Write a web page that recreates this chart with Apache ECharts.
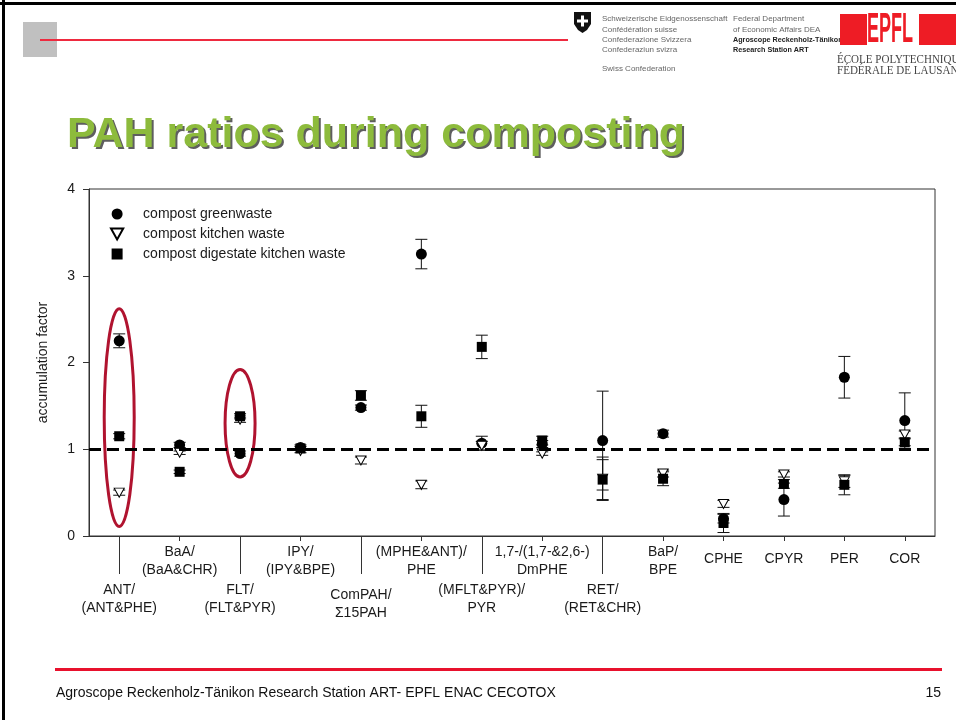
<!DOCTYPE html>
<html>
<head>
<meta charset="utf-8">
<title>PAH ratios during composting</title>
<script src="https://cdn.jsdelivr.net/npm/echarts@6/dist/echarts.min.js"></script>
<style>
  html, body { margin: 0; padding: 0; background: #ffffff; }
  #chart { width: 956px; height: 720px; }
</style>
</head>
<body>
<div id="chart"></div>
<script>
// PAH ratio categories (x axis)
const categories = [
  'ANT/\n(ANT&PHE)',
  'BaA/\n(BaA&CHR)',
  'FLT/\n(FLT&PYR)',
  'IPY/\n(IPY&BPE)',
  'ComPAH/\n\u03A315PAH',
  '(MPHE&ANT)/\nPHE',
  '(MFLT&PYR)/\nPYR',
  '1,7-/(1,7-&2,6-)\nDmPHE',
  'RET/\n(RET&CHR)',
  'BaP/\nBPE',
  'CPHE',
  'CPYR',
  'PER',
  'COR'
];

// accumulation factors (mean) and their error bars
const greenwasteMean = [2.25, 1.05, 0.95, 1.02, 1.48, 3.25, 1.07, 1.06, 1.10, 1.18, 0.20, 0.42, 1.83, 1.33];
const greenwasteErr  = [0.08, 0.03, 0.03, 0.03, 0.03, 0.17, 0.08, 0.04, 0.57, 0.04, 0.05, 0.19, 0.24, 0.32];

const kitchenMean = [0.50, 0.96, 1.34, 0.98, 0.87, 0.59, 1.04, 0.95, 0.66, 0.72, 0.37, 0.71, 0.63, 1.17];
const kitchenErr  = [0.03, 0.02, 0.03, 0.02, 0.04, 0.045, 0.05, 0.02, 0.25, 0.04, 0.04, 0.03, 0.07, 0.04];

const digestateMean = [1.15, 0.74, 1.38, 1.01, 1.62, 1.38, 2.18, 1.10, 0.65, 0.66, 0.15, 0.60, 0.59, 1.08];
const digestateErr  = [0.03, 0.02, 0.03, 0.02, 0.055, 0.127, 0.135, 0.05, 0.23, 0.08, 0.11, 0.05, 0.115, 0.04];

const seriesNames = ['compost greenwaste', 'compost kitchen waste', 'compost digestate kitchen waste'];

// y axis ticks
const yMin = 0, yMax = 4, yStep = 1;
const referenceLevel = 1;

// ratios highlighted with an ellipse: [category index, low, high]
const highlighted = [[0, 0.11, 2.62], [2, 0.68, 1.92]];

// categories whose tick runs down to the lower label row
const longTickIdx = [0, 2, 4, 6, 8];

const FONT = '"Liberation Sans", Arial, Helvetica, sans-serif';
const TXT = '#1a1a1a';
const DOWN_TRIANGLE = 'path://M0,0L10,0L5,9Z';
const SQUARE = 'path://M0,0L10,0L10,10L0,10Z';

const chart = echarts.init(document.getElementById('chart'), null, { renderer: 'canvas' });

function errorBarSeries(name, means, errs) {
  return {
    type: 'custom',
    name: name + ' error',
    silent: true,
    xAxisIndex: 0,
    yAxisIndex: 0,
    data: means.map((m, i) => [i, m, errs[i]]),
    encode: { x: 0, y: 1 },
    renderItem: function (params, api) {
      const i = api.value(0), m = api.value(1), e = api.value(2);
      const top = api.coord([i, m + e]);
      const bot = api.coord([i, m - e]);
      const half = 6;
      const st = { stroke: '#111', lineWidth: 1 };
      return {
        type: 'group',
        children: [
          { type: 'line', shape: { x1: top[0], y1: top[1], x2: bot[0], y2: bot[1] }, style: st },
          { type: 'line', shape: { x1: top[0] - half, y1: top[1], x2: top[0] + half, y2: top[1] }, style: st },
          { type: 'line', shape: { x1: bot[0] - half, y1: bot[1], x2: bot[0] + half, y2: bot[1] }, style: st }
        ]
      };
    }
  };
}

function categoryLabel(value, idx) {
  const lines = value.split('\n').map(s => '{t|' + s + '}').join('\n');
  if (idx === 4) return '{gapL| }\n' + lines;
  if (longTickIdx.indexOf(idx) >= 0) return '{gap| }\n' + lines;
  if (value.indexOf('\n') < 0) return '{s|' + value + '}';
  return lines;
}

const graphics = [
  // slide frame
  { type: 'rect', shape: { x: 0, y: 2, width: 956, height: 3 }, style: { fill: '#000' }, silent: true },
  { type: 'rect', shape: { x: 2, y: 0, width: 3, height: 720 }, style: { fill: '#000' }, silent: true },
  // header block and rule
  { type: 'rect', shape: { x: 23, y: 22, width: 34, height: 35 }, style: { fill: '#c0c0c0' }, silent: true },
  { type: 'rect', shape: { x: 40, y: 39, width: 528, height: 2 }, style: { fill: '#ee2a3f' }, silent: true },
  // Swiss shield
  { type: 'polygon', shape: { points: [[574, 12], [591, 12], [591, 24], [587, 30], [582.5, 33], [578, 30], [574, 24]] }, style: { fill: '#111' }, silent: true },
  { type: 'rect', shape: { x: 581, y: 15.5, width: 3, height: 11 }, style: { fill: '#fff' }, silent: true },
  { type: 'rect', shape: { x: 577, y: 19.5, width: 11, height: 3 }, style: { fill: '#fff' }, silent: true },
  // Swiss confederation text block
  { type: 'text', x: 602, y: 19, style: { text: 'Schweizerische Eidgenossenschaft', font: '8px ' + FONT, fill: '#666', verticalAlign: 'middle' }, silent: true },
  { type: 'text', x: 602, y: 29.5, style: { text: 'Conf\u00e9d\u00e9ration suisse', font: '8px ' + FONT, fill: '#666', verticalAlign: 'middle' }, silent: true },
  { type: 'text', x: 602, y: 39.5, style: { text: 'Confederazione Svizzera', font: '8px ' + FONT, fill: '#666', verticalAlign: 'middle' }, silent: true },
  { type: 'text', x: 602, y: 50, style: { text: 'Confederaziun svizra', font: '8px ' + FONT, fill: '#666', verticalAlign: 'middle' }, silent: true },
  { type: 'text', x: 602, y: 69, style: { text: 'Swiss Confederation', font: '8px ' + FONT, fill: '#666', verticalAlign: 'middle' }, silent: true },
  { type: 'text', x: 733, y: 19, style: { text: 'Federal Department', font: '8px ' + FONT, fill: '#666', verticalAlign: 'middle' }, silent: true },
  { type: 'text', x: 733, y: 29.5, style: { text: 'of Economic Affairs DEA', font: '8px ' + FONT, fill: '#666', verticalAlign: 'middle' }, silent: true },
  { type: 'text', x: 733, y: 39.5, scaleX: 0.9, style: { text: 'Agroscope Reckenholz-T\u00e4nikon', font: 'bold 8px ' + FONT, fill: '#222', verticalAlign: 'middle' }, silent: true },
  { type: 'text', x: 733, y: 50, scaleX: 0.9, style: { text: 'Research Station ART', font: 'bold 8px ' + FONT, fill: '#222', verticalAlign: 'middle' }, silent: true },
  // EPFL logo
  { type: 'rect', shape: { x: 840, y: 14, width: 116, height: 31 }, style: { fill: '#ee1c25' }, silent: true },
  { type: 'rect', shape: { x: 867, y: 14, width: 52, height: 31 }, style: { fill: '#fff' }, silent: true },
  { type: 'text', x: 867, y: 30, scaleX: 0.42, style: { text: 'EPFL', font: 'bold 43px ' + FONT, fill: '#ee1c25', verticalAlign: 'middle' }, silent: true },
  { type: 'text', x: 837, y: 60, scaleX: 0.92, style: { text: '\u00c9COLE POLYTECHNIQUE', font: '12px "Liberation Serif", "Times New Roman", serif', fill: '#444', verticalAlign: 'middle' }, silent: true },
  { type: 'text', x: 837, y: 71, scaleX: 0.92, style: { text: 'F\u00c9D\u00c9RALE DE LAUSANNE', font: '12px "Liberation Serif", "Times New Roman", serif', fill: '#444', verticalAlign: 'middle' }, silent: true },
  // slide title with drop shadow
  { type: 'text', x: 69, y: 137, style: { text: 'PAH ratios during composting', font: 'bold 43px ' + FONT, fill: '#5e5e5e', verticalAlign: 'middle' }, silent: true },
  { type: 'text', x: 67, y: 135, style: { text: 'PAH ratios during composting', font: 'bold 43px ' + FONT, fill: '#8dbb3c', verticalAlign: 'middle' }, silent: true },
  // footer
  { type: 'rect', shape: { x: 55, y: 668, width: 887, height: 3 }, style: { fill: '#e8112d' }, silent: true },
  { type: 'text', x: 56, y: 693, style: { text: 'Agroscope Reckenholz-T\u00e4nikon Research Station ART- EPFL ENAC CECOTOX', font: '14px ' + FONT, fill: '#111', verticalAlign: 'middle' }, silent: true },
  { type: 'text', x: 941, y: 693, style: { text: '15', font: '14px ' + FONT, fill: '#111', align: 'right', verticalAlign: 'middle' }, silent: true }
];

const option = {
  backgroundColor: '#ffffff',
  animation: false,
  textStyle: { fontFamily: FONT },
  graphic: graphics,
  grid: {
    left: 89, right: 21, top: 189, bottom: 184,
    show: true, borderColor: '#333', borderWidth: 1, backgroundColor: 'transparent',
    containLabel: false, outerBoundsMode: 'none'
  },
  legend: {
    orient: 'vertical',
    left: 110, top: 207,
    padding: 0,
    itemWidth: 42, itemHeight: 11, itemGap: 6,
    textStyle: { fontSize: 14, color: TXT, fontFamily: FONT },
    data: [
      { name: seriesNames[0], icon: 'circle' },
      { name: seriesNames[1], icon: DOWN_TRIANGLE },
      { name: seriesNames[2], icon: SQUARE }
    ],
    selectedMode: false
  },
  xAxis: [
    {
      type: 'category',
      data: categories,
      position: 'bottom',
      boundaryGap: true,
      axisLine: { show: true, lineStyle: { color: '#333', width: 1 } },
      axisTick: { show: true, alignWithLabel: true, interval: 0, length: 5, lineStyle: { color: '#333' } },
      axisLabel: {
        interval: 0, margin: 7, color: TXT, fontSize: 14, fontFamily: FONT, lineHeight: 18,
        formatter: categoryLabel,
        rich: {
          t: { fontSize: 14, lineHeight: 18, color: TXT, fontFamily: FONT },
          s: { fontSize: 14, lineHeight: 32, color: TXT, fontFamily: FONT },
          gap: { fontSize: 14, lineHeight: 38 },
          gapL: { fontSize: 14, lineHeight: 43 }
        }
      },
      splitLine: { show: false }
    },
    {
      type: 'category',
      data: categories,
      position: 'bottom',
      boundaryGap: true,
      axisLine: { show: false },
      axisTick: { show: true, alignWithLabel: true, length: 38, interval: (i) => longTickIdx.indexOf(i) >= 0, lineStyle: { color: '#333' } },
      axisLabel: { show: false },
      splitLine: { show: false }
    }
  ],
  yAxis: {
    type: 'value',
    min: yMin, max: yMax, interval: yStep,
    name: 'accumulation factor',
    nameLocation: 'middle',
    nameGap: 39,
    nameTextStyle: { fontSize: 14, color: TXT, fontFamily: FONT },
    axisLine: { show: true, lineStyle: { color: '#333', width: 1 } },
    axisTick: { show: true, inside: false, length: 6, lineStyle: { color: '#333' } },
    axisLabel: { fontSize: 14, color: TXT, fontFamily: FONT, margin: 14 },
    splitLine: { show: false }
  },
  series: [
    {
      type: 'custom',
      name: 'highlight',
      silent: true,
      data: highlighted,
      encode: { x: 0, y: [1, 2] },
      renderItem: function (params, api) {
        const i = api.value(0);
        const lo = api.coord([i, api.value(1)]);
        const hi = api.coord([i, api.value(2)]);
        return {
          type: 'ellipse',
          shape: { cx: lo[0], cy: (lo[1] + hi[1]) / 2, rx: 15, ry: Math.abs(lo[1] - hi[1]) / 2 },
          style: { fill: 'none', stroke: '#b0132f', lineWidth: 3 }
        };
      },
      markLine: {
        silent: true,
        symbol: 'none',
        label: { show: false },
        lineStyle: { color: '#000', width: 3, type: [12, 6] },
        data: [{ yAxis: referenceLevel }]
      }
    },
    errorBarSeries(seriesNames[0], greenwasteMean, greenwasteErr),
    {
      type: 'scatter',
      name: seriesNames[0],
      data: greenwasteMean.map((v, i) => [i, v]),
      symbol: 'circle',
      symbolSize: 11,
      itemStyle: { color: '#000', opacity: 1 }
    },
    errorBarSeries(seriesNames[1], kitchenMean, kitchenErr),
    {
      type: 'scatter',
      name: seriesNames[1],
      data: kitchenMean.map((v, i) => [i, v]),
      symbol: DOWN_TRIANGLE,
      symbolSize: [10, 9],
      itemStyle: { color: '#fff', borderColor: '#000', borderWidth: 1, opacity: 1 }
    },
    errorBarSeries(seriesNames[2], digestateMean, digestateErr),
    {
      type: 'scatter',
      name: seriesNames[2],
      data: digestateMean.map((v, i) => [i, v]),
      symbol: SQUARE,
      symbolSize: 10,
      itemStyle: { color: '#000', opacity: 1 }
    }
  ]
};

chart.setOption(option);
</script>
</body>
</html>
